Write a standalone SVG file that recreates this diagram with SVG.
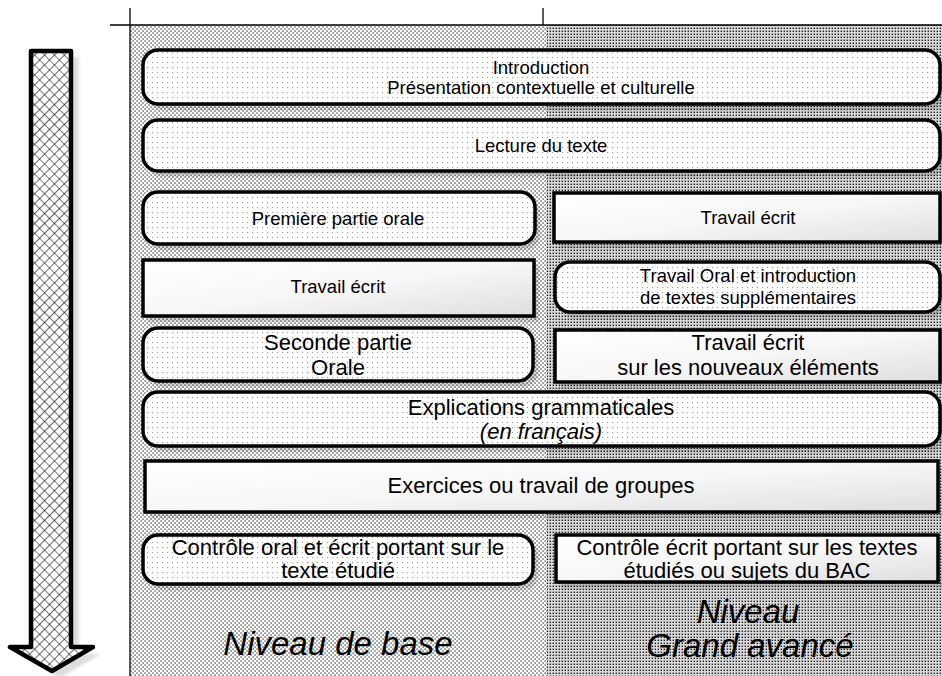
<svg xmlns="http://www.w3.org/2000/svg" width="942" height="676" viewBox="0 0 942 676">
<defs>
<pattern id="patLeft" width="4" height="4" patternUnits="userSpaceOnUse">
<rect width="4" height="4" fill="#ffffff"/>
<rect x="0.5" y="0.5" width="1.15" height="1.15" fill="#000"/>
<rect x="2.5" y="2.5" width="1.15" height="1.15" fill="#000"/>
</pattern>
<pattern id="patRight" width="3" height="3" patternUnits="userSpaceOnUse">
<rect width="3" height="3" fill="#d8d8d8"/>
<rect x="0.6" y="0.6" width="1.4" height="1.4" fill="#222"/>
</pattern>
<pattern id="patNode" width="5" height="5" patternUnits="userSpaceOnUse">
<rect width="5" height="5" fill="#ffffff"/>
<rect x="2" y="2" width="1.1" height="1.1" fill="#9a9a9a"/>
</pattern>
<pattern id="patHatch" width="7" height="7" patternUnits="userSpaceOnUse" patternTransform="rotate(45)">
<rect width="7" height="7" fill="#ffffff"/>
<path d="M0,0 H7 M0,0 V7" stroke="#000" stroke-width="1.2" fill="none"/>
</pattern>
<linearGradient id="gradRect" x1="0" y1="0" x2="1" y2="1">
<stop offset="0" stop-color="#ffffff"/>
<stop offset="0.5" stop-color="#f7f7f7"/>
<stop offset="1" stop-color="#dedede"/>
</linearGradient>
<filter id="blur" x="-5%" y="-20%" width="110%" height="140%">
<feGaussianBlur stdDeviation="1.5"/>
</filter>
</defs>
<style>
.rnd{fill:url(#patNode);stroke:#000;stroke-width:3.5}
.box{fill:url(#gradRect);stroke:#000;stroke-width:3.5}
.shd{fill:#000;opacity:0.16;filter:url(#blur)}
.t{font-family:"Liberation Sans",Arial,sans-serif;fill:#000;text-anchor:middle}
.s{font-size:18.5px}
.b{font-size:22px}
.i{font-style:italic}
.big{font-size:33px;font-style:italic}
.ln{stroke:#000;stroke-width:1.3;fill:none}
</style>

<g id="background">
<rect x="130" y="25" width="417" height="651" fill="url(#patLeft)"/>
<rect x="547" y="25" width="395" height="651" fill="url(#patRight)"/>
<path class="ln" d="M110,25 H942 M130,8 V676 M543,8 V25"/>
</g>

<g id="arrow">
<path d="M39,57 L79,57 L79,654 L101,654 L60,678 L18,654 L39,654 Z" fill="#000" opacity="0.13" filter="url(#blur)"/>
<path d="M31,51 L71,51 L71,647 L93,647 L52,671 L10,647 L31,647 Z" fill="url(#patHatch)" stroke="#000" stroke-width="4.5" stroke-linejoin="round"/>
</g>

<g id="shadows">
<rect class="shd" x="148" y="56" width="797" height="54" rx="15"/>
<rect class="shd" x="148" y="126" width="797" height="51" rx="15"/>
<rect class="shd" x="148" y="198" width="392" height="52" rx="15"/>
<rect class="shd" x="148" y="266" width="391" height="56" />
<rect class="shd" x="559" y="199" width="386" height="49"/>
<rect class="shd" x="560" y="268" width="385" height="50" rx="15"/>
<rect class="shd" x="148" y="334" width="390" height="53" rx="15"/>
<rect class="shd" x="560" y="336" width="385" height="52"/>
<rect class="shd" x="148" y="398" width="797" height="54" rx="15"/>
<rect class="shd" x="150" y="467" width="793" height="51"/>
<rect class="shd" x="148" y="541" width="390" height="49" rx="15"/>
<rect class="shd" x="561" y="541" width="382" height="47"/>
</g>

<g id="n1">
<rect class="rnd" x="143" y="50" width="797" height="54" rx="15"/>
<text class="t s" x="541" y="74">Introduction</text>
<text class="t s" x="541" y="94">Présentation contextuelle et culturelle</text>
</g>
<g id="n2">
<rect class="rnd" x="143" y="120" width="797" height="51" rx="15"/>
<text class="t s" x="541" y="152">Lecture du texte</text>
</g>
<g id="n3">
<rect class="rnd" x="143" y="192" width="392" height="52" rx="15"/>
<text class="t s" x="338" y="225">Première partie orale</text>
</g>
<g id="n4">
<rect class="box" x="143" y="260" width="391" height="56"/>
<text class="t s" x="338" y="293">Travail écrit</text>
</g>
<g id="n5">
<rect class="box" x="554" y="193" width="386" height="49"/>
<text class="t s" x="748" y="224">Travail écrit</text>
</g>
<g id="n6">
<rect class="rnd" x="555" y="262" width="385" height="50" rx="15"/>
<text class="t s" x="748" y="282">Travail Oral et introduction</text>
<text class="t s" x="748" y="304">de textes supplémentaires</text>
</g>
<g id="n7">
<rect class="rnd" x="143" y="328" width="390" height="53" rx="15"/>
<text class="t b" x="338" y="350">Seconde partie</text>
<text class="t b" x="338" y="375">Orale</text>
</g>
<g id="n8">
<rect class="box" x="555" y="330" width="385" height="52"/>
<text class="t b" x="748" y="350">Travail écrit</text>
<text class="t b" x="748" y="375">sur les nouveaux éléments</text>
</g>
<g id="n9">
<rect class="rnd" x="143" y="392" width="797" height="54" rx="15"/>
<text class="t b" x="541" y="415">Explications grammaticales</text>
<text class="t b i" x="541" y="439">(en français)</text>
</g>
<g id="n10">
<rect class="box" x="145" y="461" width="793" height="51"/>
<text class="t b" x="541" y="493">Exercices ou travail de groupes</text>
</g>
<g id="n11">
<rect class="rnd" x="143" y="535" width="390" height="49" rx="15"/>
<text class="t b" x="338" y="555">Contrôle oral et écrit portant sur le</text>
<text class="t b" x="338" y="578">texte étudié</text>
</g>
<g id="n12">
<rect class="box" x="556" y="535" width="382" height="47"/>
<text class="t b" x="747" y="555">Contrôle écrit portant sur les textes</text>
<text class="t b" x="747" y="578">étudiés ou sujets du BAC</text>
</g>

<g id="labels">
<text class="t big" x="338" y="655">Niveau de base</text>
<text class="t big" x="748" y="623">Niveau</text>
<text class="t big" x="750" y="657">Grand avancé</text>
</g>

<g id="connectors"></g>
</svg>
